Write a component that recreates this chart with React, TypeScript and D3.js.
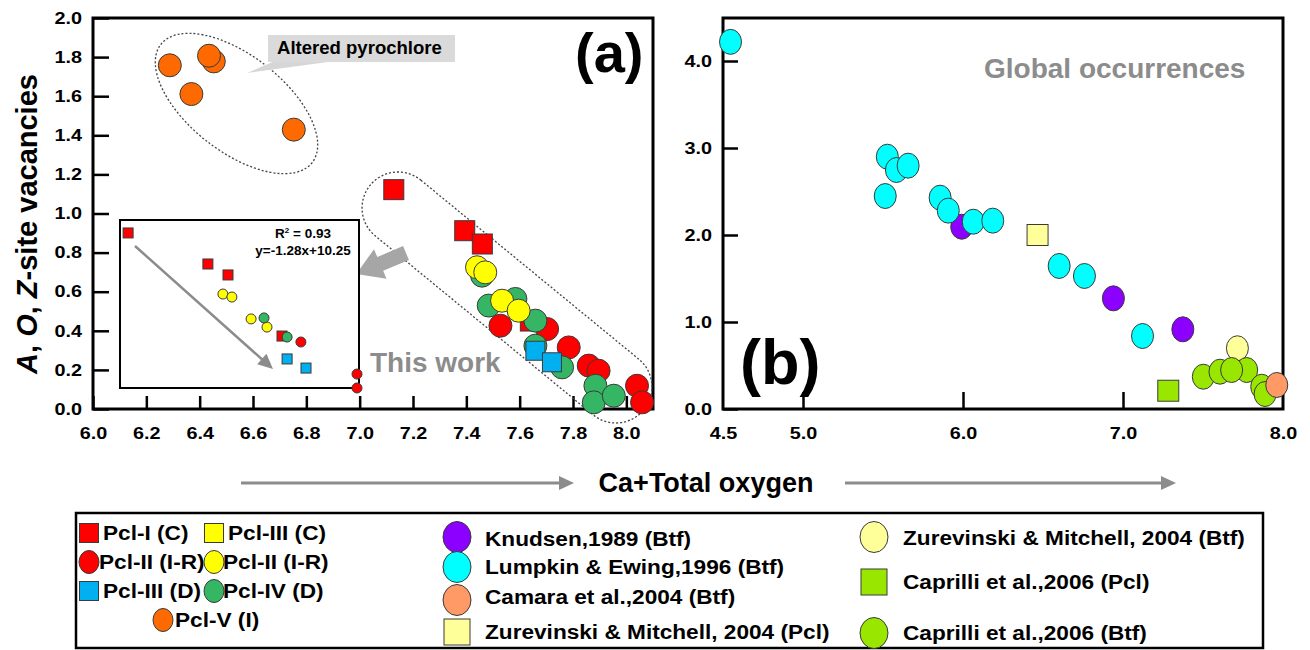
import React, { useEffect, useRef } from 'react';
import * as d3 from 'd3';

type Pt = [number, number];

// ---- panel (a): this work  [Ca+total oxygen, A,O,Z-site vacancies]
const pclIC: Pt[] = [[7.128, 1.122], [7.394, 0.912], [7.46, 0.844], [7.64, 0.45]];
const pclIIRed: Pt[] = [[7.528, 0.426], [7.703, 0.409], [7.784, 0.315], [7.859, 0.222], [7.896, 0.196], [8.04, 0.119], [8.059, 0.034]];
const pclIVGreen: Pt[] = [[7.459, 0.682], [7.484, 0.529], [7.584, 0.563], [7.659, 0.452], [7.659, 0.324], [7.759, 0.213], [7.884, 0.119], [7.878, 0.034], [7.953, 0.068]];
const pclIIYellow: Pt[] = [[7.44, 0.725], [7.471, 0.699], [7.534, 0.554], [7.596, 0.503]];
const pclIIID: Pt[] = [[7.659, 0.298], [7.721, 0.239]];
const pclV: Pt[] = [[6.288, 1.758], [6.453, 1.778], [6.435, 1.807], [6.369, 1.611], [6.753, 1.429]];

// inset (averages)
const insetRedSq: Pt[] = [[7.127, 1.122], [7.393, 0.935], [7.46, 0.869], [7.64, 0.501]];
const insetYellow: Pt[] = [[7.443, 0.754], [7.473, 0.736], [7.537, 0.604], [7.59, 0.555]];
const insetGreen: Pt[] = [[7.58, 0.61], [7.657, 0.495]];
const insetRedCirc: Pt[] = [[7.703, 0.465], [7.89, 0.272], [7.89, 0.188]];
const insetCyanSq: Pt[] = [[7.657, 0.363], [7.72, 0.308]];

// ---- panel (b): global occurrences
const knudsen: Pt[] = [[5.992, 2.095], [6.94, 1.272], [7.374, 0.916]];
const lumpkin: Pt[] = [[4.547, 4.22], [5.527, 2.9], [5.584, 2.747], [5.657, 2.797], [5.514, 2.448], [5.857, 2.429], [5.908, 2.28], [6.064, 2.153], [6.186, 2.165], [6.601, 1.644], [6.759, 1.529], [7.122, 0.839]];
const zurevinskiPcl: Pt[] = [[6.466, 2.0]];
const zurevinskiBtf: Pt[] = [[7.715, 0.698]];
const caprilliPcl: Pt[] = [[7.283, 0.21]];
const caprilliBtf: Pt[] = [[7.502, 0.371], [7.606, 0.429], [7.773, 0.448], [7.679, 0.448], [7.867, 0.256], [7.888, 0.172]];
const camara: Pt[] = [[7.961, 0.276]];

// tick labels
const aXTicks = [6.0, 6.2, 6.4, 6.6, 6.8, 7.0, 7.2, 7.4, 7.6, 7.8, 8.0];
const aYTicks = [0.0, 0.2, 0.4, 0.6, 0.8, 1.0, 1.2, 1.4, 1.6, 1.8, 2.0];
const bXTicks = [4.5, 5.0, 6.0, 7.0, 8.0];
const bYTicks = [0.0, 1.0, 2.0, 3.0, 4.0];

const FONT = "'Liberation Sans', Arial, Helvetica, sans-serif";
const C = {
  red: '#ff0000', yellow: '#ffff00', sky: '#00b0f0', green: '#35b665', orange: '#ff6a00',
  purple: '#8b00ff', cyan: '#00ffff', salmon: '#ff9966', pale: '#ffff99', lime: '#99e600',
  gray: '#8c8c8c', edge: '#3a3a3a',
};

const App = () => {
  const svgRef = useRef<SVGSVGElement>(null);

  useEffect(() => {
    const svg = d3.select(svgRef.current);
    svg.selectAll('*').remove();
    svg.attr('width', 1310).attr('height', 650)
      .style('font-family', FONT).style('font-weight', 'bold');

    // stretch text a bit horizontally, the original figure is wider than Arial
    const widen = (sel: any, k: number) => sel.each(function (this: any) {
      const w = this.getComputedTextLength();
      d3.select(this).attr('textLength', w * k).attr('lengthAdjust', 'spacingAndGlyphs');
    });

    const circles = (g: any, data: Pt[], x: any, y: any, fill: string, rx: number, ry: number) =>
      g.selectAll(null).data(data).enter().append('ellipse')
        .attr('cx', (d: Pt) => x(d[0])).attr('cy', (d: Pt) => y(d[1]))
        .attr('rx', rx).attr('ry', ry)
        .attr('fill', fill).attr('stroke', C.edge).attr('stroke-width', 1);

    const squares = (g: any, data: Pt[], x: any, y: any, fill: string, s: number) =>
      g.selectAll(null).data(data).enter().append('rect')
        .attr('x', (d: Pt) => x(d[0]) - s / 2).attr('y', (d: Pt) => y(d[1]) - s / 2)
        .attr('width', s).attr('height', s)
        .attr('fill', fill).attr('stroke', C.edge).attr('stroke-width', 1);

    const styleAxis = (g: any, fs: number) => {
      g.select('.domain').remove();
      g.selectAll('line').attr('stroke', '#000').attr('stroke-width', 2.5);
      g.selectAll('text').attr('fill', '#000').style('font-size', fs + 'px')
        .style('font-family', FONT).style('font-weight', 'bold');
      widen(g.selectAll('text'), 1.2);
    };

    // ================= panel (a)
    const xa = d3.scaleLinear().domain([6.0, 8.1]).range([93, 653]);
    const ya = d3.scaleLinear().domain([0, 2.0]).range([409, 18]);

    svg.append('rect').attr('x', 93).attr('y', 18).attr('width', 560).attr('height', 391)
      .attr('fill', 'none').attr('stroke', '#000').attr('stroke-width', 3);

    const axA = svg.append('g').attr('transform', 'translate(93,0)')
      .call(d3.axisLeft(ya).tickValues(aYTicks).tickSize(-16).tickPadding(11).tickFormat(d3.format('.1f')));
    styleAxis(axA, 16.5);
    const axAx = svg.append('g').attr('transform', 'translate(0,409)')
      .call(d3.axisBottom(xa).tickValues(aXTicks).tickSize(-13).tickPadding(18).tickFormat(d3.format('.1f')));
    styleAxis(axAx, 16.5);

    // y-axis title
    const yl = svg.append('text').attr('transform', 'translate(37,224) rotate(-90)')
      .attr('text-anchor', 'middle').style('font-size', '29px');
    yl.append('tspan').style('font-style', 'italic').text('A');
    yl.append('tspan').text(', ');
    yl.append('tspan').style('font-style', 'italic').text('O');
    yl.append('tspan').text(', ');
    yl.append('tspan').style('font-style', 'italic').text('Z');
    yl.append('tspan').text('-site vacancies');

    // dotted outlines
    svg.append('ellipse').attr('transform', 'translate(236.5,103.5) rotate(38)')
      .attr('rx', 96).attr('ry', 48).attr('fill', 'none')
      .attr('stroke', '#444').attr('stroke-width', 1.3).attr('stroke-dasharray', '2,2');
    svg.append('rect').attr('transform', 'translate(507,297.5) rotate(39.4)')
      .attr('x', -177).attr('y', -36).attr('width', 354).attr('height', 72).attr('rx', 36)
      .attr('fill', 'none').attr('stroke', '#444').attr('stroke-width', 1.3).attr('stroke-dasharray', '2,2');

    // callout
    svg.append('path').attr('d', 'M275,61 L335,61 L247,73 Z').attr('fill', '#d6d6d6');
    svg.append('rect').attr('x', 268).attr('y', 35).attr('width', 187).attr('height', 27)
      .attr('fill', '#dadada');
    svg.append('text').attr('x', 277).attr('y', 54).style('font-size', '18px').text('Altered pyrochlore')
      .call(widen, 1.03);

    const gA = svg.append('g');
    circles(gA, pclV, xa, ya, C.orange, 11.5, 11.5);
    squares(gA, pclIC, xa, ya, C.red, 20);
    circles(gA, pclIIRed, xa, ya, C.red, 11.5, 11.5);
    circles(gA, pclIVGreen, xa, ya, C.green, 11.5, 11.5);
    circles(gA, pclIIYellow, xa, ya, C.yellow, 11.5, 11.5);
    squares(gA, pclIIID, xa, ya, C.sky, 19);

    svg.append('text').attr('x', 370).attr('y', 372).attr('fill', C.gray)
      .style('font-size', '28px').text('This work');
    svg.append('text').attr('x', 575).attr('y', 72).style('font-size', '56px').text('(a)');

    // big gray arrow to inset
    svg.append('path').attr('transform', 'translate(406,253) rotate(157)')
      .attr('d', 'M0,-7.5 L28,-7.5 L28,-16 L54,0 L28,16 L28,7.5 L0,7.5 Z').attr('fill', '#a6a6a6');

    // inset
    const xi = d3.scaleLinear().domain([7.1, 7.9]).range([120, 360]);
    const yi = d3.scaleLinear().domain([0.2, 1.2]).range([386, 220]);
    svg.append('rect').attr('x', 120).attr('y', 220).attr('width', 239).attr('height', 168)
      .attr('fill', '#fff').attr('stroke', '#000').attr('stroke-width', 2);
    svg.append('line').attr('x1', 135).attr('y1', 246).attr('x2', 265).attr('y2', 362)
      .attr('stroke', C.gray).attr('stroke-width', 2.5);
    svg.append('path').attr('transform', 'translate(273,369) rotate(41.7)')
      .attr('d', 'M0,0 L-15,-7 L-15,7 Z').attr('fill', C.gray);
    const gI = svg.append('g');
    squares(gI, insetRedSq, xi, yi, C.red, 10);
    circles(gI, insetYellow, xi, yi, C.yellow, 5, 5);
    circles(gI, insetGreen, xi, yi, C.green, 5, 5);
    circles(gI, insetRedCirc, xi, yi, C.red, 5, 5);
    squares(gI, insetCyanSq, xi, yi, C.sky, 10);
    const r2 = svg.append('text').attr('x', 303).attr('y', 238).attr('text-anchor', 'middle').style('font-size', '13.5px');
    r2.append('tspan').text('R');
    r2.append('tspan').attr('dy', -5).style('font-size', '8px').text('2');
    r2.append('tspan').attr('dy', 5).text(' = 0.93');
    svg.append('text').attr('x', 303).attr('y', 255).attr('text-anchor', 'middle')
      .style('font-size', '13.5px').text('y=-1.28x+10.25');

    // ================= panel (b)
    const xb = d3.scaleLinear().domain([4.5, 8.0]).range([723, 1283]);
    const yb = d3.scaleLinear().domain([0, 4.5]).range([409, 17.5]);

    svg.append('rect').attr('x', 723).attr('y', 18).attr('width', 560).attr('height', 391)
      .attr('fill', 'none').attr('stroke', '#000').attr('stroke-width', 3);
    const axB = svg.append('g').attr('transform', 'translate(723,0)')
      .call(d3.axisLeft(yb).tickValues(bYTicks).tickSize(-15).tickPadding(11).tickFormat(d3.format('.1f')));
    styleAxis(axB, 16.5);
    const axBx = svg.append('g').attr('transform', 'translate(0,409)')
      .call(d3.axisBottom(xb).tickValues(bXTicks).tickSize(-17).tickPadding(18).tickFormat(d3.format('.1f')));
    styleAxis(axBx, 16.5);
    axBx.selectAll('.tick').filter((d: any) => d === 4.5 || d === 8.0).select('line').remove();

    svg.append('text').attr('x', 984).attr('y', 78).attr('fill', C.gray)
      .style('font-size', '28px').text('Global occurrences');
    svg.append('text').attr('x', 740).attr('y', 384).style('font-size', '63px').text('(b)');

    const gB = svg.append('g');
    circles(gB, knudsen, xb, yb, C.purple, 11, 12.5);
    circles(gB, lumpkin, xb, yb, C.cyan, 11, 12.5);
    squares(gB, zurevinskiPcl, xb, yb, C.pale, 21);
    squares(gB, caprilliPcl, xb, yb, C.lime, 21);
    circles(gB, zurevinskiBtf, xb, yb, C.pale, 11, 12.5);
    circles(gB, caprilliBtf, xb, yb, C.lime, 11, 12.5);
    circles(gB, camara, xb, yb, C.salmon, 11, 12.5);

    // ================= shared x title
    svg.append('text').attr('x', 706).attr('y', 492).attr('text-anchor', 'middle')
      .style('font-size', '27px').text('Ca+Total oxygen');
    [[241, 574], [845, 1176]].forEach(([a, b]) => {
      svg.append('line').attr('x1', a).attr('x2', b - 10).attr('y1', 483).attr('y2', 483)
        .attr('stroke', C.gray).attr('stroke-width', 3);
      svg.append('path').attr('d', `M${b},483 L${b - 15},476 L${b - 15},490 Z`).attr('fill', C.gray);
    });

    // ================= legend
    svg.append('rect').attr('x', 76).attr('y', 513).attr('width', 1187).attr('height', 135)
      .attr('fill', 'none').attr('stroke', '#000').attr('stroke-width', 2.5);

    const legendItems = [
      { label: 'Pcl-I (C)', shape: 'sq', fill: C.red, mx: 89, my: 533, tx: 103, ty: 533, s: 19 },
      { label: 'Pcl-III (C)', shape: 'sq', fill: C.yellow, mx: 214, my: 533, tx: 228, ty: 533, s: 19 },
      { label: 'Pcl-II (I-R)', shape: 'ci', fill: C.red, mx: 89, my: 562, tx: 99, ty: 562, s: 10 },
      { label: 'Pcl-II (I-R)', shape: 'ci', fill: C.yellow, mx: 214, my: 562, tx: 223, ty: 562, s: 10 },
      { label: 'Pcl-III (D)', shape: 'sq', fill: C.sky, mx: 89, my: 591, tx: 103, ty: 591, s: 19 },
      { label: 'Pcl-IV (D)', shape: 'ci', fill: C.green, mx: 214, my: 591, tx: 223, ty: 591, s: 10 },
      { label: 'Pcl-V (I)', shape: 'ci', fill: C.orange, mx: 163, my: 620, tx: 175, ty: 620, s: 10 },
      { label: 'Knudsen,1989 (Btf)', shape: 'ci', fill: C.purple, mx: 457, my: 537, tx: 485, ty: 539, s: 14 },
      { label: 'Lumpkin & Ewing,1996 (Btf)', shape: 'ci', fill: C.cyan, mx: 457, my: 567, tx: 485, ty: 567, s: 14 },
      { label: 'Camara et al.,2004 (Btf)', shape: 'ci', fill: C.salmon, mx: 457, my: 600, tx: 485, ty: 597, s: 14 },
      { label: 'Zurevinski & Mitchell, 2004 (Pcl)', shape: 'sq', fill: C.pale, mx: 457, my: 632, tx: 485, ty: 632, s: 26 },
      { label: 'Zurevinski & Mitchell, 2004 (Btf)', shape: 'ci', fill: C.pale, mx: 874, my: 537, tx: 903, ty: 538, s: 14 },
      { label: 'Caprilli et al.,2006 (Pcl)', shape: 'sq', fill: C.lime, mx: 874, my: 582, tx: 903, ty: 582, s: 26 },
      { label: 'Caprilli et al.,2006 (Btf)', shape: 'ci', fill: C.lime, mx: 874, my: 633, tx: 903, ty: 633, s: 14 },
    ];
    const lg = svg.append('g');
    legendItems.forEach(it => {
      if (it.shape === 'sq') {
        lg.append('rect').attr('x', it.mx - it.s / 2).attr('y', it.my - it.s / 2)
          .attr('width', it.s).attr('height', it.s)
          .attr('fill', it.fill).attr('stroke', C.edge).attr('stroke-width', 1);
      } else {
        lg.append('ellipse').attr('cx', it.mx).attr('cy', it.my).attr('rx', it.s).attr('ry', it.s + 1.5)
          .attr('fill', it.fill).attr('stroke', C.edge).attr('stroke-width', 1);
      }
      lg.append('text').attr('x', it.tx).attr('y', it.ty).attr('dy', '0.35em')
        .style('font-size', '19.5px').text(it.label).call(widen, 1.16);
    });
  }, []);

  return <svg ref={svgRef} style={{ position: 'absolute', left: 0, top: 0, background: '#fff' }} />;
};

export default App;
